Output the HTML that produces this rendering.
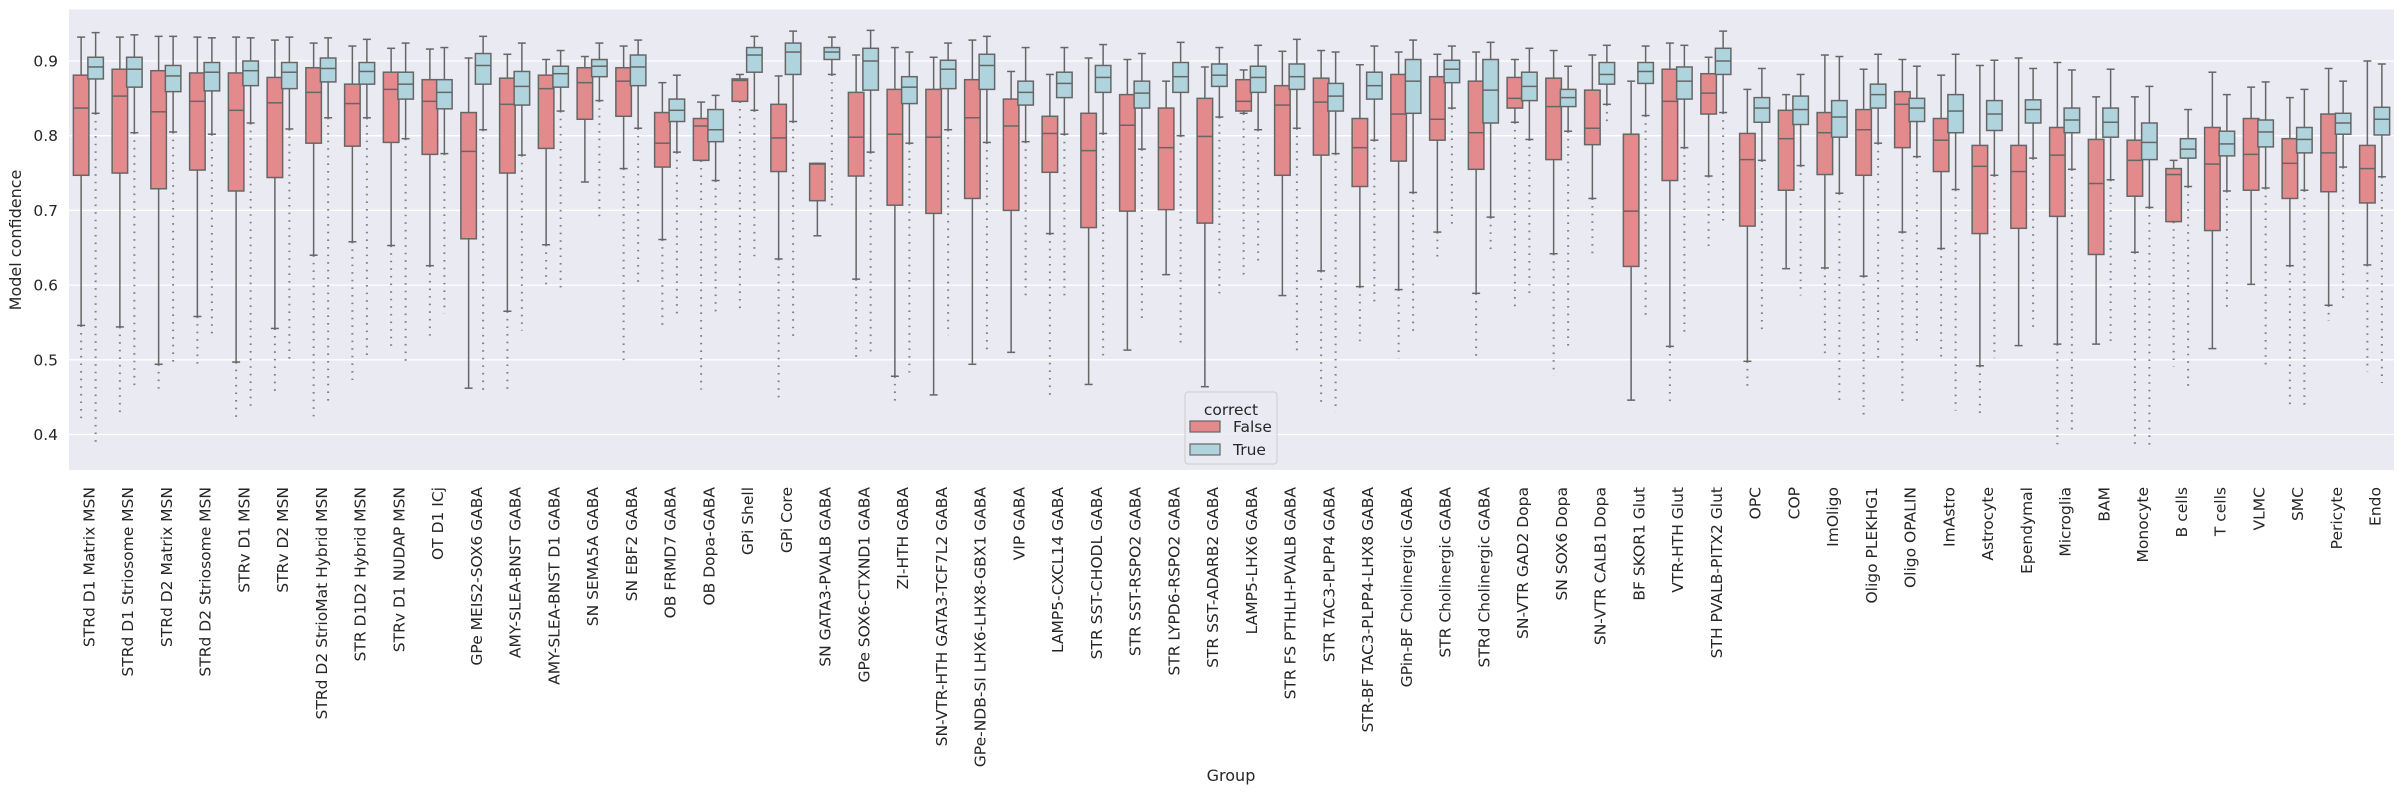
<!DOCTYPE html>
<html><head><meta charset="utf-8"><style>
html,body{margin:0;padding:0;background:#fff;}
svg{display:block;font-family:"DejaVu Sans","Liberation Sans",sans-serif;}
</style></head><body>
<svg id="chart" width="2403" height="792" viewBox="0 0 2403 792" xmlns="http://www.w3.org/2000/svg">
<rect x="69" y="9.5" width="2325" height="460.5" fill="#EAEAF2"/>
<g id="grid"></g>
<g id="yticks"></g>
<g id="boxes"></g>
<g id="xlabels"></g>
<text x="0" y="0" transform="translate(21,240) rotate(-90)" text-anchor="middle" font-size="16" fill="#262626">Model confidence</text>
<text x="1231" y="781" text-anchor="middle" font-size="16" fill="#262626">Group</text>
<g>
<rect x="1185" y="392" width="92" height="72" rx="3" fill="#EAEAF2" fill-opacity="0.8" stroke="#cccccc" stroke-width="1"/>
<text x="1231" y="415" text-anchor="middle" font-size="15.5" fill="#262626">correct</text>
<rect x="1190" y="421" width="30" height="11" fill="#E38B8C" stroke="#666" stroke-width="1.2"/>
<text x="1233" y="432" font-size="15.5" fill="#262626">False</text>
<rect x="1190" y="444" width="30" height="11" fill="#B0D4DE" stroke="#666" stroke-width="1.2"/>
<text x="1233" y="455" font-size="15.5" fill="#262626">True</text>
</g>
</svg>
<script>
const categories = ["STRd D1 Matrix MSN","STRd D1 Striosome MSN","STRd D2 Matrix MSN","STRd D2 Striosome MSN","STRv D1 MSN","STRv D2 MSN","STRd D2 StrioMat Hybrid MSN","STR D1D2 Hybrid MSN","STRv D1 NUDAP MSN","OT D1 ICj","GPe MEIS2-SOX6 GABA","AMY-SLEA-BNST GABA","AMY-SLEA-BNST D1 GABA","SN SEMA5A GABA","SN EBF2 GABA","OB FRMD7 GABA","OB Dopa-GABA","GPi Shell","GPi Core","SN GATA3-PVALB GABA","GPe SOX6-CTXND1 GABA","ZI-HTH GABA","SN-VTR-HTH GATA3-TCF7L2 GABA","GPe-NDB-SI LHX6-LHX8-GBX1 GABA","VIP GABA","LAMP5-CXCL14 GABA","STR SST-CHODL GABA","STR SST-RSPO2 GABA","STR LYPD6-RSPO2 GABA","STR SST-ADARB2 GABA","LAMP5-LHX6 GABA","STR FS PTHLH-PVALB GABA","STR TAC3-PLPP4 GABA","STR-BF TAC3-PLPP4-LHX8 GABA","GPin-BF Cholinergic GABA","STR Cholinergic GABA","STRd Cholinergic GABA","SN-VTR GAD2 Dopa","SN SOX6 Dopa","SN-VTR CALB1 Dopa","BF SKOR1 Glut","VTR-HTH Glut","STH PVALB-PITX2 Glut","OPC","COP","ImOligo","Oligo PLEKHG1","Oligo OPALIN","ImAstro","Astrocyte","Ependymal","Microglia","BAM","Monocyte","B cells","T cells","VLMC","SMC","Pericyte","Endo"];
const yTicks = [0.4,0.5,0.6,0.7,0.8,0.9];
const hues = ["False","True"];
// False series
const falseWhiskerLow = [.546,.544,.494,.558,.497,.542,.640,.658,.653,.626,.462,.565,.654,.738,.756,.661,.767,.846,.635,.666,.608,.478,.453,.494,.510,.669,.467,.513,.614,.464,.830,.586,.619,.598,.594,.671,.589,.818,.642,.716,.446,.518,.746,.498,.622,.623,.612,.671,.649,.492,.519,.521,.521,.644,.685,.515,.601,.626,.573,.627];
const falseQ1 = [.747,.750,.729,.754,.726,.744,.790,.786,.791,.775,.662,.750,.783,.822,.826,.758,.767,.846,.752,.713,.746,.707,.696,.716,.700,.751,.677,.699,.701,.683,.833,.747,.774,.732,.766,.794,.755,.837,.768,.788,.625,.740,.829,.679,.727,.748,.747,.784,.752,.669,.676,.692,.641,.719,.685,.673,.727,.716,.725,.710];
const falseMedian = [.837,.853,.832,.846,.834,.844,.858,.843,.862,.846,.779,.842,.863,.871,.873,.790,.813,.874,.797,.762,.798,.802,.798,.824,.813,.803,.780,.814,.784,.799,.846,.841,.845,.784,.829,.822,.804,.850,.839,.810,.699,.846,.857,.768,.796,.804,.808,.842,.794,.759,.752,.774,.736,.767,.748,.762,.775,.763,.777,.756];
const falseQ3 = [.881,.889,.887,.884,.884,.878,.891,.869,.885,.875,.831,.877,.881,.891,.891,.831,.823,.876,.842,.763,.858,.862,.862,.875,.849,.826,.830,.855,.837,.850,.875,.867,.877,.823,.882,.879,.873,.878,.877,.861,.802,.889,.883,.803,.834,.831,.835,.859,.823,.787,.787,.811,.795,.794,.756,.811,.823,.796,.829,.787];
const falseWhiskerHigh = [.932,.932,.933,.932,.932,.928,.924,.920,.917,.916,.904,.909,.902,.906,.920,.871,.845,.882,.880,.763,.908,.918,.905,.928,.886,.882,.904,.902,.873,.892,.888,.913,.914,.895,.912,.909,.912,.902,.914,.908,.873,.924,.905,.862,.855,.908,.889,.902,.881,.894,.904,.898,.852,.852,.767,.885,.865,.851,.890,.900];
const falseOutlierMin = [.422,.423,.456,.492,.420,.455,.422,.473,.513,.525,.462,.455,.601,.738,.499,.541,.460,.567,.445,.701,.503,.440,.453,.494,.510,.447,.467,.513,.614,.464,.610,.586,.443,.525,.502,.632,.502,.571,.479,.636,.446,.440,.652,.462,.622,.506,.423,.437,.502,.425,.519,.387,.521,.386,.491,.515,.601,.437,.552,.484];
// True series
const trueWhiskerLow = [.830,.804,.805,.802,.817,.809,.824,.824,.796,.776,.808,.774,.833,.847,.810,.778,.740,.834,.819,.882,.778,.790,.808,.791,.792,.802,.803,.782,.800,.825,.808,.810,.776,.794,.724,.837,.691,.795,.806,.842,.827,.784,.831,.767,.760,.723,.790,.772,.728,.747,.770,.755,.741,.704,.732,.726,.730,.727,.758,.745];
const trueQ1 = [.876,.865,.859,.860,.867,.863,.872,.869,.849,.836,.869,.841,.865,.879,.867,.819,.792,.885,.882,.902,.861,.843,.863,.862,.841,.851,.858,.837,.858,.866,.858,.862,.833,.849,.830,.871,.817,.847,.839,.869,.870,.849,.882,.818,.815,.798,.837,.819,.804,.807,.817,.804,.798,.768,.770,.773,.785,.777,.802,.801];
const trueMedian = [.892,.889,.880,.885,.887,.885,.890,.886,.869,.858,.894,.866,.883,.893,.892,.834,.808,.908,.912,.912,.900,.865,.889,.894,.858,.870,.878,.857,.879,.881,.878,.879,.853,.867,.873,.889,.861,.866,.851,.882,.886,.873,.900,.837,.835,.825,.855,.837,.833,.829,.835,.821,.818,.791,.782,.789,.805,.795,.817,.822];
const trueQ3 = [.905,.905,.894,.898,.900,.898,.904,.898,.885,.875,.910,.886,.893,.902,.908,.849,.835,.918,.924,.918,.917,.879,.901,.909,.873,.885,.894,.873,.898,.896,.893,.896,.870,.885,.902,.901,.902,.885,.862,.898,.898,.892,.917,.851,.853,.847,.869,.850,.855,.847,.848,.837,.837,.817,.796,.806,.821,.811,.830,.838];
const trueWhiskerHigh = [.938,.935,.933,.931,.931,.932,.931,.929,.924,.918,.933,.924,.914,.924,.928,.881,.854,.933,.940,.932,.941,.912,.924,.933,.918,.918,.922,.910,.925,.918,.921,.929,.912,.920,.928,.920,.925,.917,.893,.921,.920,.921,.940,.890,.882,.906,.909,.893,.909,.901,.890,.888,.889,.866,.835,.855,.872,.862,.873,.896];
const trueOutlierMin = [.388,.458,.496,.529,.435,.494,.440,.500,.495,.562,.459,.539,.594,.685,.602,.557,.557,.638,.525,.701,.508,.483,.533,.510,.579,.582,.506,.551,.521,.587,.630,.506,.430,.575,.535,.679,.648,.587,.519,.813,.557,.531,.685,.541,.586,.442,.495,.525,.432,.502,.544,.400,.522,.386,.462,.566,.487,.435,.577,.469];

const NS = "http://www.w3.org/2000/svg";
const PLOT_L = 69, PLOT_R = 2394, STEP = (PLOT_R - PLOT_L) / categories.length;
function xCenter(i){ return PLOT_L + (i + 0.5) * STEP; }
function yScale(v){ return 61 + (0.9 - v) * 747; }
function mk(tag, attrs, parent){
  const el = document.createElementNS(NS, tag);
  for (const k in attrs) el.setAttribute(k, attrs[k]);
  parent.appendChild(el);
  return el;
}
const grid = document.getElementById('grid');
const yt = document.getElementById('yticks');
yTicks.forEach(t => {
  const y = yScale(t);
  const gl = mk('line', {x1: PLOT_L, x2: PLOT_R, y1: y, y2: y, stroke: '#ffffff', 'stroke-width': 1.3}, grid);
  
  
  const tx = mk('text', {x: 58, y: y + 5.5, 'text-anchor': 'end', 'font-size': 15.5, fill: '#262626'}, yt);
  tx.textContent = t.toFixed(1);
  
  
});
const boxes = document.getElementById('boxes');
const series = [
  {wl: falseWhiskerLow, q1: falseQ1, md: falseMedian, q3: falseQ3, wh: falseWhiskerHigh, om: falseOutlierMin, fill: '#E38B8C', off: -1},
  {wl: trueWhiskerLow, q1: trueQ1, md: trueMedian, q3: trueQ3, wh: trueWhiskerHigh, om: trueOutlierMin, fill: '#B0D4DE', off: 0}
];
const BW = STEP * 0.4;
const LC = '#666666';
categories.forEach((c, i) => {
  series.forEach((s, si) => {
    const x0 = xCenter(i) + s.off * BW + (si === 0 ? 0.5 : -0.5);
    const xm = x0 + BW / 2;
    const g = mk('g', {}, boxes);
    
    
    if (s.om[i] < s.wl[i] - 0.002) {
      const o = mk('line', {x1: xm, x2: xm, y1: yScale(s.wl[i]), y2: yScale(s.om[i]), stroke: '#808080', 'stroke-width': 2, 'stroke-dasharray': '1.6 6'}, g);
      
      
    }
    mk('line', {x1: xm, x2: xm, y1: yScale(s.wh[i]), y2: yScale(s.q3[i]), stroke: LC, 'stroke-width': 1.5}, g);
    mk('line', {x1: xm, x2: xm, y1: yScale(s.q1[i]), y2: yScale(s.wl[i]), stroke: LC, 'stroke-width': 1.5}, g);
    mk('line', {x1: xm - 4, x2: xm + 4, y1: yScale(s.wh[i]), y2: yScale(s.wh[i]), stroke: LC, 'stroke-width': 1.5}, g);
    mk('line', {x1: xm - 4, x2: xm + 4, y1: yScale(s.wl[i]), y2: yScale(s.wl[i]), stroke: LC, 'stroke-width': 1.5}, g);
    const yTop = yScale(s.q3[i]), yBot = yScale(s.q1[i]);
    mk('rect', {x: x0, y: yTop, width: BW, height: Math.max(yBot - yTop, 0.5), fill: s.fill, stroke: LC, 'stroke-width': 1.5}, g);
    mk('line', {x1: x0, x2: x0 + BW, y1: yScale(s.md[i]), y2: yScale(s.md[i]), stroke: LC, 'stroke-width': 1.5}, g);
  });
  const xl = document.getElementById('xlabels');
  const t = mk('text', {x: 0, y: 0, transform: 'translate(' + (xCenter(i) + 1) + ',487) rotate(-90)', 'text-anchor': 'end', 'dominant-baseline': 'central', 'font-size': 15.5, fill: '#262626'}, xl);
  t.textContent = c;
  
  
});
</script>
</body></html>
